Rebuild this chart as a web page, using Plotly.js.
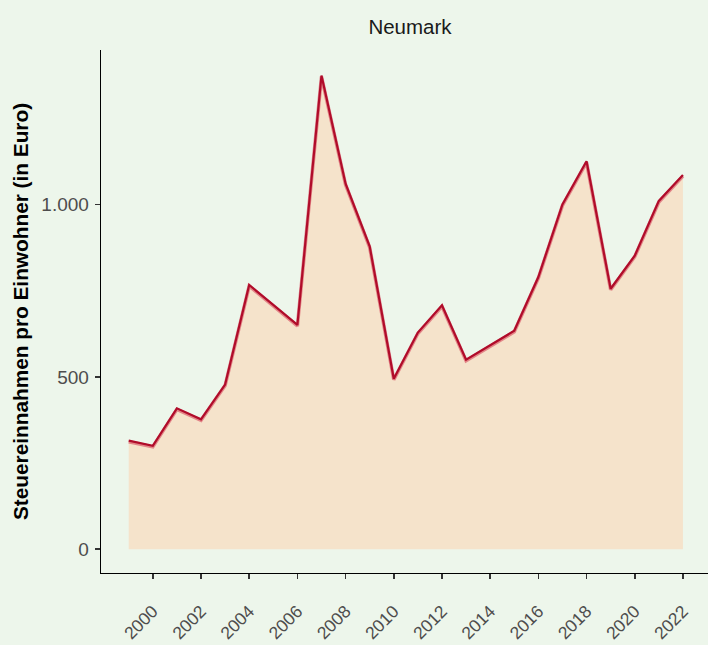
<!DOCTYPE html>
<html><head><meta charset="utf-8">
<script src="https://cdn.plot.ly/plotly-3.0.1.min.js"></script>
<style>html,body{margin:0;padding:0;background:#EDF6EB;}</style>
</head><body>
<div id="chart" style="width:708px;height:645px;"></div>
<script>
const years = [1999,2000,2001,2002,2003,2004,2005,2006,2007,2008,2009,2010,2011,2012,2013,2014,2015,2016,2017,2018,2019,2020,2021,2022];
const values = [315,300,409,377,478,767,709,651,1375,1061,879,495,629,708,550,593,634,790,1001,1126,756,852,1011,1086];
const yTicks = [0,500,1000];
const yTickLabels = ["0","500","1.000"];
const xTicks = [2000,2002,2004,2006,2008,2010,2012,2014,2016,2018,2020,2022];
const title = "Neumark";
const yTitle = "Steuereinnahmen pro Einwohner (in Euro)";

const yRange = [-69, 1449];
const traces = [
  {x: years, y: values, type:'scatter', mode:'lines', fill:'tozeroy',
   fillcolor:'#F5E3CB', line:{width:0, color:'rgba(0,0,0,0)'}, hoverinfo:'skip'},
  {x: years, y: values, type:'scatter', mode:'lines', yaxis:'y2',
   line:{width:3.5, color:'rgba(215,70,90,0.6)'}, hoverinfo:'skip'},
  {x: years, y: values, type:'scatter', mode:'lines', yaxis:'y3',
   line:{width:2.2, color:'#B00C2A'}}
];
const layout = {
  width:708, height:645,
  paper_bgcolor:'#EDF6EB', plot_bgcolor:'#EDF6EB',
  margin:{l:101, r:0, t:50, b:72},
  showlegend:false,
  separators:',.',
  font:{family:'"Liberation Sans", Arial, sans-serif', color:'#4D4D4D', size:18},
  title:{text:title, x:0.509, xanchor:'center', xref:'paper', y:1, yref:'container', yanchor:'top', pad:{t:20},
         font:{size:20.5, color:'#1A1A1A'}},
  xaxis:{range:[1997.85, 2023.04], tickmode:'array', tickvals:xTicks, automargin:false,
         tickangle:-45, ticks:'outside', ticklen:5, tickwidth:1.5, tickcolor:'#333333',
         ticklabelstandoff:15,
         showgrid:false, zeroline:false, showline:true, linecolor:'#000000', linewidth:1.3,
         tickfont:{size:17.5, color:'#4D4D4D'}},
  yaxis:{range:yRange, tickmode:'array', tickvals:yTicks, ticktext:yTickLabels, automargin:false,
         ticks:'outside', ticklen:5, tickwidth:1.5, tickcolor:'#333333', ticklabelstandoff:2,
         showgrid:false, zeroline:false, showline:true, linecolor:'#000000', linewidth:1.3,
         tickfont:{size:19, color:'#4D4D4D'},
         title:{text:'<b>'+yTitle+'</b>', standoff:7, font:{size:20.8, color:'#000000'}}},
  yaxis2:{range:[yRange[0]+3, yRange[1]+3], overlaying:'y', visible:false, showgrid:false, zeroline:false},
  yaxis3:{range:yRange, overlaying:'y', visible:false, showgrid:false, zeroline:false}
};
Plotly.newPlot('chart', traces, layout, {displayModeBar:false, staticPlot:true});
</script>
</body></html>
